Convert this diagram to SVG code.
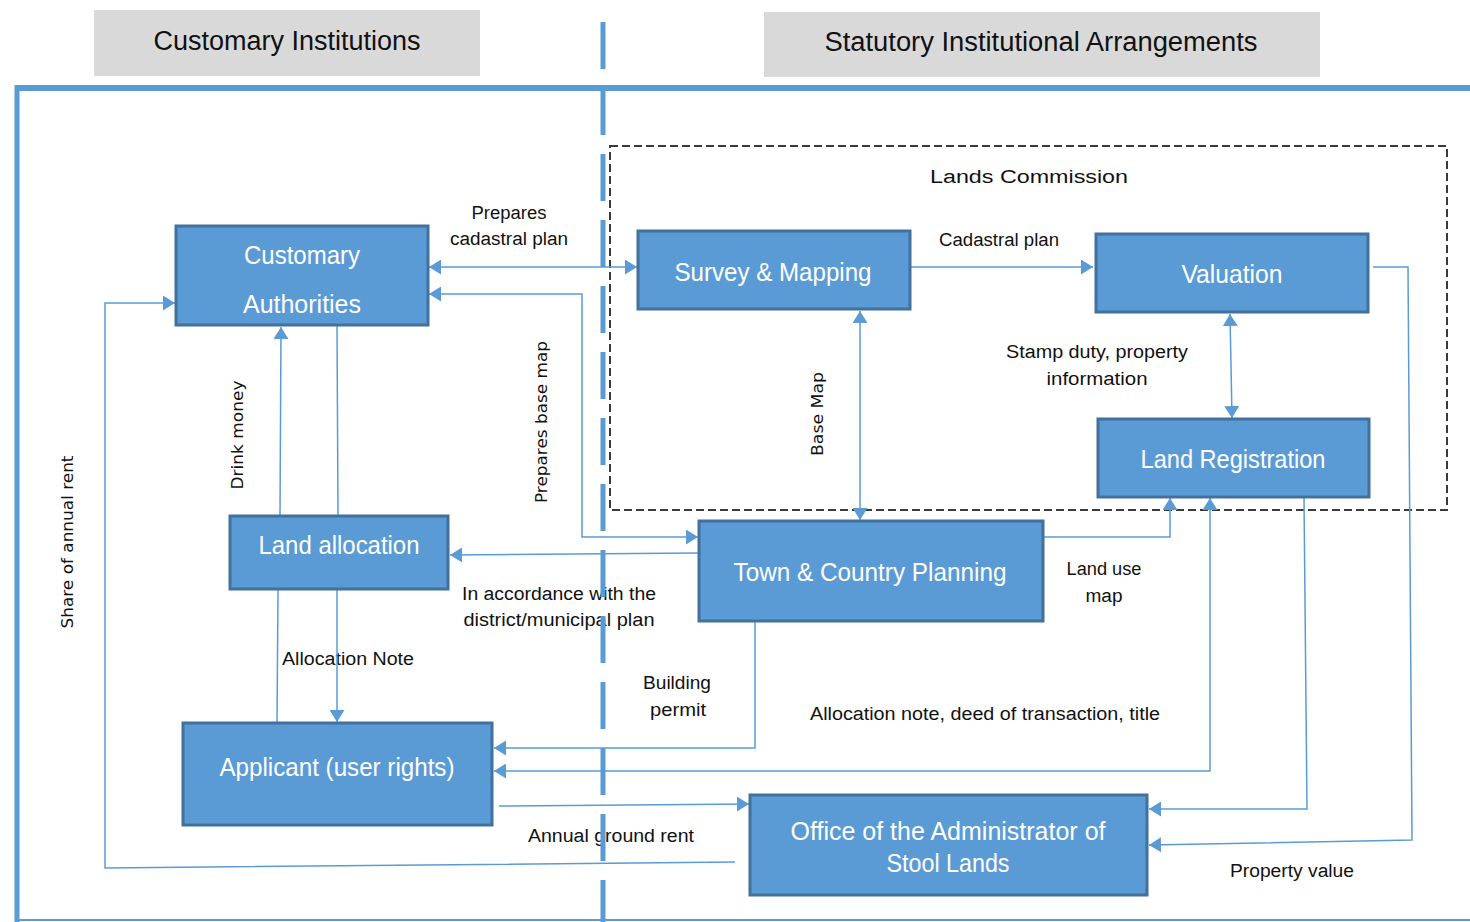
<svg xmlns="http://www.w3.org/2000/svg" width="1470" height="922" viewBox="0 0 1470 922">
  <style>
    .hdr { fill: #d9d9d9; }
    .hdrtxt { font-family: "Liberation Sans", Arial, sans-serif; font-size: 27px; fill: #111; text-anchor: middle; }
    .node { fill: #5b9bd5; stroke: #41719c; stroke-width: 3; }
    .ntxt { font-family: "Liberation Sans", Arial, sans-serif; font-size: 25px; fill: #ffffff; text-anchor: middle; }
    .lbl { font-family: "Liberation Sans", Arial, sans-serif; font-size: 18px; fill: #111; text-anchor: middle; }
    .vlbl { font-family: "DejaVu Sans", Verdana, sans-serif; font-size: 16px; fill: #111; text-anchor: middle; }
    .con { fill: none; stroke: #5b9bd5; stroke-width: 1.5; }
    .frame { fill: none; stroke: #5b9bd5; }
  </style>
  <defs>
    <marker id="arr" markerUnits="userSpaceOnUse" markerWidth="12" markerHeight="15" refX="12" refY="7.5" orient="auto-start-reverse">
      <path d="M0,0 L12,7.5 L0,15 Z" fill="#5b9bd5"/>
    </marker>
  </defs>

  <rect width="1470" height="922" fill="#ffffff"/>

  <!-- column headers -->
  <g id="hdr-customary">
    <rect class="hdr" x="94" y="10" width="386" height="66"/>
    <text class="hdrtxt" x="287" y="50" textLength="267" lengthAdjust="spacingAndGlyphs">Customary Institutions</text>
  </g>
  <g id="hdr-statutory">
    <rect class="hdr" x="764" y="12" width="556" height="65"/>
    <text class="hdrtxt" x="1041" y="51" textLength="433" lengthAdjust="spacingAndGlyphs">Statutory Institutional Arrangements</text>
  </g>

  <!-- outer frame -->
  <g id="frame">
    <path class="frame" d="M15 88 H1470" stroke-width="6"/>
    <path class="frame" d="M17 85 V922" stroke-width="5"/>
    <path class="frame" d="M17 920 H1470" stroke-width="2"/>
  </g>

  <!-- Lands Commission grouping -->
  <g id="lands-commission">
    <rect x="610" y="146" width="837" height="364" fill="none" stroke="#3a3a3a" stroke-width="2" stroke-dasharray="8 4"/>
    <text class="lbl" x="1029" y="183" font-size="23" textLength="198" lengthAdjust="spacingAndGlyphs">Lands Commission</text>
  </g>

  <!-- edge labels -->
  <g id="labels">
    <text class="lbl" x="509" y="219" textLength="75" lengthAdjust="spacingAndGlyphs">Prepares</text>
    <text class="lbl" x="509" y="245" textLength="118" lengthAdjust="spacingAndGlyphs">cadastral plan</text>
    <text class="lbl" x="999" y="246" textLength="120" lengthAdjust="spacingAndGlyphs">Cadastral plan</text>
    <text class="lbl" x="1097" y="358" textLength="182" lengthAdjust="spacingAndGlyphs">Stamp duty, property</text>
    <text class="lbl" x="1097" y="385" textLength="101" lengthAdjust="spacingAndGlyphs">information</text>
    <text class="lbl" x="1104" y="575" textLength="75" lengthAdjust="spacingAndGlyphs">Land use</text>
    <text class="lbl" x="1104" y="602" textLength="37" lengthAdjust="spacingAndGlyphs">map</text>
    <text class="lbl" x="559" y="600" textLength="194" lengthAdjust="spacingAndGlyphs">In accordance with the</text>
    <text class="lbl" x="559" y="626" textLength="191" lengthAdjust="spacingAndGlyphs">district/municipal plan</text>
    <text class="lbl" x="348" y="665" textLength="132" lengthAdjust="spacingAndGlyphs">Allocation Note</text>
    <text class="lbl" x="677" y="689" textLength="68" lengthAdjust="spacingAndGlyphs">Building</text>
    <text class="lbl" x="678" y="716" textLength="56" lengthAdjust="spacingAndGlyphs">permit</text>
    <text class="lbl" x="985" y="720" textLength="350" lengthAdjust="spacingAndGlyphs">Allocation note, deed of transaction, title</text>
    <text class="lbl" x="611" y="842" textLength="166" lengthAdjust="spacingAndGlyphs">Annual ground rent</text>
    <text class="lbl" x="1292" y="877" textLength="124" lengthAdjust="spacingAndGlyphs">Property value</text>
    <text class="vlbl" transform="translate(73,542) rotate(-90)" textLength="173" lengthAdjust="spacingAndGlyphs">Share of annual rent</text>
    <text class="vlbl" transform="translate(243,435) rotate(-90)" textLength="109" lengthAdjust="spacingAndGlyphs">Drink money</text>
    <text class="vlbl" transform="translate(547,422) rotate(-90)" textLength="162" lengthAdjust="spacingAndGlyphs">Prepares base map</text>
    <text class="vlbl" transform="translate(823,414) rotate(-90)" textLength="84" lengthAdjust="spacingAndGlyphs">Base Map</text>
  </g>

  <!-- connectors -->
  <g id="connectors">
    <path class="con" d="M429 267 H637" marker-start="url(#arr)" marker-end="url(#arr)"/>
    <path class="con" d="M429 294 H582 V537 H698" marker-start="url(#arr)" marker-end="url(#arr)"/>
    <path class="con" d="M911 267 H1093" marker-end="url(#arr)"/>
    <path class="con" d="M1373 267 H1408 L1412 840 L1149 845" marker-end="url(#arr)"/>
    <path class="con" d="M860 311 V520" marker-start="url(#arr)" marker-end="url(#arr)"/>
    <path class="con" d="M1230 314 L1232 418" marker-start="url(#arr)" marker-end="url(#arr)"/>
    <path class="con" d="M1044 537 H1170 V498" marker-end="url(#arr)"/>
    <path class="con" d="M1210 498 V771 H494" marker-start="url(#arr)" marker-end="url(#arr)"/>
    <path class="con" d="M1304 498 L1307 809 H1149" marker-end="url(#arr)"/>
    <path class="con" d="M755 622 V748 H494" marker-end="url(#arr)"/>
    <path class="con" d="M499 806 L749 804" marker-end="url(#arr)"/>
    <path class="con" d="M735 862 L105 868 V303 H175" marker-end="url(#arr)"/>
    <path class="con" d="M280 515 L281 327" marker-end="url(#arr)"/>
    <path class="con" d="M337 326 L338 515"/>
    <path class="con" d="M278 590 L277 722"/>
    <path class="con" d="M337 590 V722" marker-end="url(#arr)"/>
    <path class="con" d="M698 553 L450 555" marker-end="url(#arr)"/>
  </g>

  <!-- nodes -->
  <g id="customary-authorities">
    <rect class="node" x="176" y="226" width="252" height="99"/>
    <text class="ntxt" x="302" y="264" textLength="116" lengthAdjust="spacingAndGlyphs">Customary</text>
    <text class="ntxt" x="302" y="313" textLength="118" lengthAdjust="spacingAndGlyphs">Authorities</text>
  </g>
  <g id="survey-mapping">
    <rect class="node" x="638" y="231" width="272" height="78"/>
    <text class="ntxt" x="773" y="281" textLength="197" lengthAdjust="spacingAndGlyphs">Survey &amp; Mapping</text>
  </g>
  <g id="valuation">
    <rect class="node" x="1096" y="234" width="272" height="78"/>
    <text class="ntxt" x="1232" y="283" textLength="101" lengthAdjust="spacingAndGlyphs">Valuation</text>
  </g>
  <g id="land-registration">
    <rect class="node" x="1098" y="419" width="271" height="78"/>
    <text class="ntxt" x="1233" y="468" textLength="185" lengthAdjust="spacingAndGlyphs">Land Registration</text>
  </g>
  <g id="land-allocation">
    <rect class="node" x="230" y="516" width="218" height="73"/>
    <text class="ntxt" x="339" y="554" textLength="161" lengthAdjust="spacingAndGlyphs">Land allocation</text>
  </g>
  <g id="town-country-planning">
    <rect class="node" x="699" y="521" width="344" height="100"/>
    <text class="ntxt" x="870" y="581" textLength="273" lengthAdjust="spacingAndGlyphs">Town &amp; Country Planning</text>
  </g>
  <g id="applicant">
    <rect class="node" x="183" y="723" width="309" height="102"/>
    <text class="ntxt" x="337" y="776" textLength="235" lengthAdjust="spacingAndGlyphs">Applicant (user rights)</text>
  </g>
  <g id="office-stool-lands">
    <rect class="node" x="750" y="795" width="397" height="100"/>
    <text class="ntxt" x="948" y="840" textLength="315" lengthAdjust="spacingAndGlyphs">Office of the Administrator of</text>
    <text class="ntxt" x="948" y="872" textLength="123" lengthAdjust="spacingAndGlyphs">Stool Lands</text>
  </g>

  <!-- divider between customary and statutory sides -->
  <g id="divider">
    <path d="M603 22 V922" stroke="#5b9bd5" stroke-width="5" stroke-dasharray="47 19" fill="none"/>
  </g>
</svg>
